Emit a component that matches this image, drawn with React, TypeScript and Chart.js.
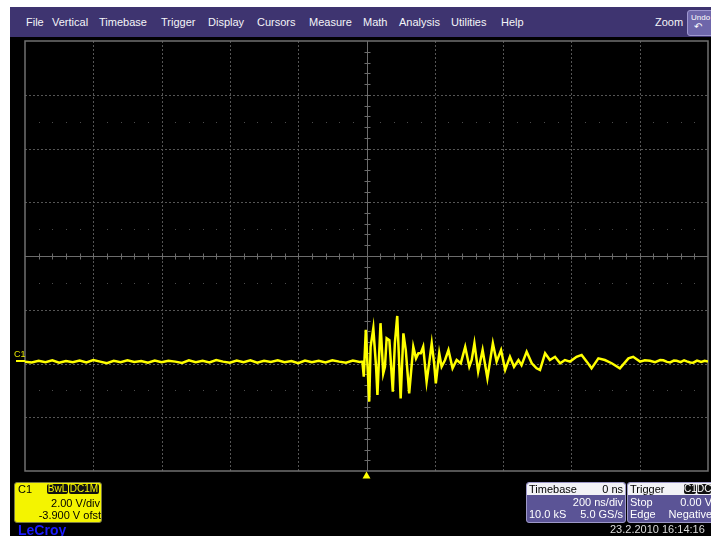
import React, { useEffect, useRef } from "react";
import { Chart, registerables } from "chart.js";

Chart.register(...registerables);

// ---- Acquisition settings (from the scope panels) ----
const nsPerDiv = 200;
const timeMinNs = -1000;
const timeMaxNs = 1000;
const voltsPerDiv = 2;
const offsetV = -3.9;
const centerV = -offsetV;
const yMinV = centerV - 4 * voltsPerDiv;
const yMaxV = centerV + 4 * voltsPerDiv;

// ---- Channel C1 trace (ns, V) ----
const preTriggerNs = [
  -1000, -980, -960, -940, -920, -900, -880, -860, -840, -820,
  -800, -780, -760, -740, -720, -700, -680, -660, -640, -620,
  -600, -580, -560, -540, -520, -500, -480, -460, -440, -420,
  -400, -380, -360, -340, -320, -300, -280, -260, -240, -220,
  -200, -180, -160, -140, -120, -100, -80, -60, -40, -20,
];
const preTriggerV = [
  -0.03, -0.06, 0.0, -0.05, 0.02, -0.07, -0.01, -0.05, 0.01, -0.06,
  0.03, -0.03, -0.09, 0.0, -0.05, 0.02, -0.04, -0.01, -0.07, 0.01,
  -0.05, 0.0, -0.03, -0.08, 0.02, -0.05, 0.0, -0.06, 0.03, -0.03,
  -0.07, 0.01, -0.05, 0.02, -0.07, 0.0, -0.04, 0.02, -0.05, -0.01,
  -0.09, 0.01, -0.05, 0.0, -0.06, 0.02, -0.03, -0.07, 0.01, -0.04,
];
const burstNs = [
  -12, -8, -2, 8, 12, 20, 28, 32, 41, 49, 54, 59, 67, 77, 83, 90, 100, 108,
  115, 125, 137, 145, 152, 159, 166, 176, 184, 191, 198, 203, 213, 220, 230,
  240, 252, 264, 276, 289, 301, 308, 316, 327, 340, 354, 370, 381, 394, 406,
  420, 432, 445, 454, 469, 484, 498,
];
const burstV = [
  -0.03, -0.59, 1.15, -1.52, 0.52, 1.21, -0.22, -1.27, 1.4, -0.47, -0.22,
  0.84, 0.77, -1.15, 0.65, 1.67, -1.4, 1.02, 0.4, -1.21, 0.52, 0.09, 0.28,
  0.28, 0.52, -0.78, -0.03, 0.65, -0.09, -0.84, 0.28, -0.22, 0.03, 0.4,
  -0.28, 0.03, -0.09, 0.52, -0.22, 0.03, 0.65, -0.4, 0.4, -0.65, 0.65,
  -0.03, 0.4, -0.34, 0.15, -0.22, 0.03, -0.16, 0.34, -0.09, -0.28,
];
const tailNs = [
  508, 523, 537, 552, 567, 581, 596, 615, 630, 645, 659, 679, 698, 718, 742,
  767, 781, 801, 815, 830, 845, 860, 869, 880, 889, 900, 908, 920, 930, 938,
  948, 957, 968, 980, 990, 1000,
];
const tailV = [
  -0.34, 0.28, 0.03, 0.15, -0.09, 0.03, -0.03, 0.15, 0.22, -0.03, -0.28,
  0.09, 0.03, -0.09, -0.28, 0.09, 0.15, -0.03, 0.02, 0.0, -0.05, 0.03,
  0.02, -0.04, -0.06, 0.01, 0.0, -0.05, 0.02, -0.02, -0.06, -0.07, 0.01,
  -0.04, 0.0, -0.03,
];

// ---- Texts ----
const menuItems = ["File", "Vertical", "Timebase", "Trigger", "Display", "Cursors", "Measure", "Math", "Analysis", "Utilities", "Help"];
const menuLeft = [16, 42, 89, 151, 198, 247, 299, 353, 389, 441, 491];

const FONT = '"Liberation Sans", Arial, sans-serif';
const YELLOW = "#ffff00";

const scopePlugin = {
  id: "scopeGrid",
  beforeDatasetsDraw(chart: any) {
    const { ctx, chartArea: a } = chart;
    const xs = chart.scales.x;
    const ys = chart.scales.y;
    ctx.save();
    // dotted division grid
    ctx.strokeStyle = "#555555";
    ctx.lineWidth = 1;
    ctx.setLineDash([2, 2]);
    for (let d = 1; d < 10; d++) {
      if (d === 5) continue;
      const px = Math.round(xs.getPixelForValue(timeMinNs + d * nsPerDiv)) + 0.5;
      ctx.beginPath();
      ctx.moveTo(px, a.top);
      ctx.lineTo(px, a.bottom);
      ctx.stroke();
    }
    for (let d = 1; d < 8; d++) {
      if (d === 4) continue;
      const py = Math.round(ys.getPixelForValue(yMinV + d * voltsPerDiv)) + 0.5;
      ctx.beginPath();
      ctx.moveTo(a.left, py);
      ctx.lineTo(a.right, py);
      ctx.stroke();
    }
    ctx.setLineDash([]);
    // subdivision dot rows
    ctx.fillStyle = "#4c4c4c";
    for (const dv of [-2.5, -0.5, 0.5, 2.5]) {
      const py = Math.round(ys.getPixelForValue(centerV + dv * voltsPerDiv));
      for (let s = 1; s < 50; s++) {
        if (s % 5 === 0) continue;
        const px = Math.round(xs.getPixelForValue(timeMinNs + (s * nsPerDiv) / 5));
        ctx.fillRect(px, py, 1, 1);
      }
    }
    // centre crosshair with ticks
    const cx = Math.round(xs.getPixelForValue(0)) + 0.5;
    const cy = Math.round(ys.getPixelForValue(centerV)) + 0.5;
    ctx.strokeStyle = "#6c6c6c";
    ctx.beginPath();
    ctx.moveTo(cx, a.top);
    ctx.lineTo(cx, a.bottom);
    ctx.moveTo(a.left, cy);
    ctx.lineTo(a.right, cy);
    for (let s = 1; s < 50; s++) {
      const px = Math.round(xs.getPixelForValue(timeMinNs + (s * nsPerDiv) / 5)) + 0.5;
      ctx.moveTo(px, cy - 3);
      ctx.lineTo(px, cy + 3);
    }
    for (let s = 1; s < 40; s++) {
      const py = Math.round(ys.getPixelForValue(yMinV + (s * voltsPerDiv) / 5)) + 0.5;
      ctx.moveTo(cx - 3, py);
      ctx.lineTo(cx + 3, py);
    }
    ctx.stroke();
    // frame
    ctx.strokeStyle = "#707070";
    ctx.lineWidth = 1.5;
    ctx.strokeRect(a.left, a.top, a.right - a.left, a.bottom - a.top);
    ctx.restore();
  },
  afterDraw(chart: any) {
    const { ctx, chartArea: a } = chart;
    const xs = chart.scales.x;
    const ys = chart.scales.y;
    ctx.save();
    // trigger position marker
    const tx = xs.getPixelForValue(0);
    ctx.fillStyle = YELLOW;
    ctx.beginPath();
    ctx.moveTo(tx, a.bottom + 0.5);
    ctx.lineTo(tx + 4, a.bottom + 7.5);
    ctx.lineTo(tx - 4, a.bottom + 7.5);
    ctx.closePath();
    ctx.fill();
    // channel ground marker
    const gy = ys.getPixelForValue(0);
    ctx.fillRect(a.left - 9, Math.round(gy) - 1, 9, 2);
    ctx.font = `9px ${FONT}`;
    ctx.fillStyle = "#e6e600";
    ctx.textBaseline = "alphabetic";
    ctx.fillText("C1", a.left - 11, Math.round(gy) - 4);
    ctx.restore();
  },
};

function Box({ text, bg, color, left, width }: any) {
  return (
    <div
      style={{
        position: "absolute",
        left,
        top: 1,
        width,
        height: 10,
        background: bg,
        color,
        fontSize: 10,
        lineHeight: "10px",
        textAlign: "center",
        borderRadius: 2,
      }}
    >
      {text}
    </div>
  );
}

export default function App() {
  const ref = useRef<HTMLCanvasElement | null>(null);

  useEffect(() => {
    if (!ref.current) return;
    const points = [
      ...preTriggerNs.map((t, i) => ({ x: t, y: preTriggerV[i] })),
      ...burstNs.map((t, i) => ({ x: t, y: burstV[i] })),
      ...tailNs.map((t, i) => ({ x: t, y: tailV[i] })),
    ];
    const chart = new Chart(ref.current, {
      type: "line",
      data: {
        datasets: [
          {
            label: "C1",
            data: points,
            borderColor: YELLOW,
            borderWidth: 2.5,
            pointRadius: 0,
            tension: 0,
            fill: false,
          },
        ],
      },
      options: {
        animation: false,
        responsive: false,
        devicePixelRatio: 1,
        layout: { padding: { left: 15, top: 4, right: 3, bottom: 65 } },
        plugins: { legend: { display: false }, tooltip: { enabled: false } },
        scales: {
          x: { type: "linear", min: timeMinNs, max: timeMaxNs, display: false },
          y: { type: "linear", min: yMinV, max: yMaxV, display: false },
        },
      },
      plugins: [scopePlugin],
    });
    return () => chart.destroy();
  }, []);

  const row = (top: number, extra: any = {}) => ({
    position: "absolute" as const,
    left: 2,
    right: 2,
    top,
    height: 12,
    lineHeight: "12px",
    ...extra,
  });

  return (
    <div
      style={{
        position: "fixed",
        left: 10,
        top: 7,
        width: 701,
        height: 529,
        background: "#000",
        overflow: "hidden",
        fontFamily: FONT,
        fontSize: 11,
      }}
    >
      {/* menu bar */}
      <div style={{ position: "absolute", left: 0, top: 0, width: 701, height: 30, background: "#3e3470" }}>
        {menuItems.map((m, i) => (
          <span
            key={m}
            style={{ position: "absolute", left: menuLeft[i], top: 0, lineHeight: "31px", color: "#f4f4f8", fontSize: 11 }}
          >
            {m}
          </span>
        ))}
        <span style={{ position: "absolute", left: 645, top: 0, lineHeight: "31px", color: "#f4f4f8", fontSize: 11 }}>Zoom</span>
        <div
          style={{
            position: "absolute",
            left: 677,
            top: 3,
            width: 28,
            height: 24,
            background: "#6e66aa",
            border: "1px solid #9f98d0",
            borderRadius: 3,
            color: "#fff",
            fontSize: 8,
            textAlign: "left",
          }}
        >
          <div style={{ position: "absolute", left: 3, top: 2, lineHeight: "9px" }}>Undo</div>
          <div style={{ position: "absolute", left: 6, top: 10, lineHeight: "11px", fontSize: 10, fontFamily: '"DejaVu Sans"' }}>↶</div>
        </div>
      </div>

      <canvas ref={ref} width={701} height={499} style={{ position: "absolute", left: 0, top: 30, display: "block" }} />

      {/* C1 channel panel */}
      <div
        style={{
          position: "absolute",
          left: 4,
          top: 475,
          width: 86,
          height: 39,
          background: "#f4f400",
          border: "1px solid #7a7a40",
          borderRadius: 3,
          color: "#000",
          overflow: "hidden",
        }}
      >
        <div style={{ position: "absolute", left: 3, top: 0, lineHeight: "12px" }}>C1</div>
        <Box text="BwL" bg="#111" color="#f4f400" left={32} width={21} />
        <Box text="DC1M" bg="#111" color="#f4f400" left={54} width={30} />
        <div style={row(14, { textAlign: "right", left: 0, right: 1 })}>2.00 V/div</div>
        <div style={row(26, { textAlign: "right", left: 0, right: 0, whiteSpace: "nowrap" })}>-3.900 V ofst</div>
      </div>

      <div
        style={{
          position: "absolute",
          left: 8,
          top: 515,
          color: "#1c1cff",
          fontWeight: "bold",
          fontSize: 14,
          lineHeight: "16px",
          textDecoration: "underline",
        }}
      >
        LeCroy
      </div>

      {/* Timebase panel */}
      <div
        style={{
          position: "absolute",
          left: 516,
          top: 475,
          width: 98,
          height: 39,
          background: "#5b5496",
          border: "1px solid #9d98c8",
          borderRadius: 3,
          color: "#fff",
          overflow: "hidden",
        }}
      >
        <div style={{ position: "absolute", left: 0, right: 0, top: 0, height: 12, background: "#f2f2f6", borderRadius: "2px 2px 0 0" }} />
        <div style={row(0, { color: "#000" })}>Timebase</div>
        <div style={row(0, { color: "#000", textAlign: "right" })}>0 ns</div>
        <div style={row(13, { textAlign: "right" })}>200 ns/div</div>
        <div style={row(25)}>10.0 kS</div>
        <div style={row(25, { textAlign: "right" })}>5.0 GS/s</div>
      </div>

      {/* Trigger panel */}
      <div
        style={{
          position: "absolute",
          left: 617,
          top: 475,
          width: 86,
          height: 39,
          background: "#5b5496",
          border: "1px solid #9d98c8",
          borderRadius: 3,
          color: "#fff",
          overflow: "hidden",
        }}
      >
        <div style={{ position: "absolute", left: 0, right: 0, top: 0, height: 12, background: "#f2f2f6", borderRadius: "2px 2px 0 0" }} />
        <div style={row(0, { color: "#000" })}>Trigger</div>
        <Box text="C1" bg="#111" color="#fff" left={56} width={12} />
        <Box text="DC" bg="#111" color="#fff" left={69} width={14} />
        <div style={row(13)}>Stop</div>
        <div style={row(13, { textAlign: "right" })}>0.00 V</div>
        <div style={row(25)}>Edge</div>
        <div style={row(25, { textAlign: "right" })}>Negative</div>
      </div>

      <div style={{ position: "absolute", left: 600, top: 516, color: "#dcdcdc", fontSize: 11, lineHeight: "13px" }}>
        23.2.2010 16:14:16
      </div>
    </div>
  );
}
